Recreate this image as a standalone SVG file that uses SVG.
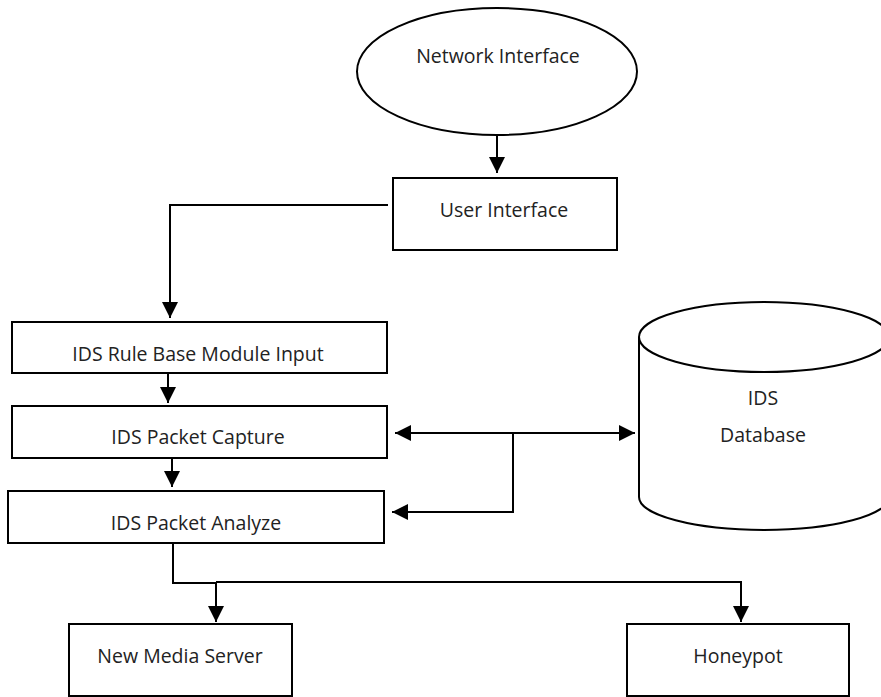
<svg xmlns="http://www.w3.org/2000/svg" width="881" height="697" viewBox="0 0 881 697">
<defs>
<marker id="arr" viewBox="0 0 16 16" markerWidth="16" markerHeight="16" refX="16" refY="8" orient="auto-start-reverse" markerUnits="userSpaceOnUse">
<path d="M0,0 L16,8 L0,16 z" fill="#000"/>
</marker>
<style>
.s{fill:#fff;stroke:#000;stroke-width:2}
.c{fill:none;stroke:#000;stroke-width:2}
text{font-family:"Open Sans","Noto Sans","DejaVu Sans",sans-serif;font-size:19.5px;fill:#222;text-anchor:middle}
</style>
</defs>
<rect width="881" height="697" fill="#fff"/>
<g id="connectors">
<path class="c" d="M497,135 V173" marker-end="url(#arr)"/>
<path class="c" d="M388,205 H170 V318" marker-end="url(#arr)"/>
<path class="c" d="M168,373 V403" marker-end="url(#arr)"/>
<path class="c" d="M172,458 V487" marker-end="url(#arr)"/>
<path class="c" d="M395,433 H635" marker-start="url(#arr)" marker-end="url(#arr)"/>
<path class="c" d="M513,433 V512 H392" marker-end="url(#arr)"/>
<path class="c" d="M173,543 V583 H216 V622" marker-end="url(#arr)"/>
<path class="c" d="M216,582 H741 V622" marker-end="url(#arr)"/>
</g>
<g id="network-interface">
<ellipse class="s" cx="497" cy="71.5" rx="140" ry="63.5"/>
<text x="498" y="63">Network Interface</text>
</g>
<g id="user-interface">
<rect class="s" x="393" y="178" width="224" height="72"/>
<text x="504" y="217">User Interface</text>
</g>
<g id="ids-rule-base">
<rect class="s" x="12" y="322" width="375" height="51"/>
<text x="198" y="361">IDS Rule Base Module Input</text>
</g>
<g id="ids-packet-capture">
<rect class="s" x="12" y="406" width="375" height="52"/>
<text x="198" y="444">IDS Packet Capture</text>
</g>
<g id="ids-packet-analyze">
<rect class="s" x="8" y="491" width="376" height="52"/>
<text x="196" y="530">IDS Packet Analyze</text>
</g>
<g id="new-media-server">
<rect class="s" x="69" y="624" width="223" height="72"/>
<text x="180" y="663">New Media Server</text>
</g>
<g id="honeypot">
<rect class="s" x="627" y="624" width="222" height="72"/>
<text x="738" y="663">Honeypot</text>
</g>
<g id="ids-database">
<path class="s" d="M639,337 V497 A125,33 0 0 0 889,497 V337"/>
<ellipse class="s" cx="764" cy="337" rx="125" ry="35"/>
<text x="763" y="405">IDS</text>
<text x="763" y="442">Database</text>
</g>
</svg>
